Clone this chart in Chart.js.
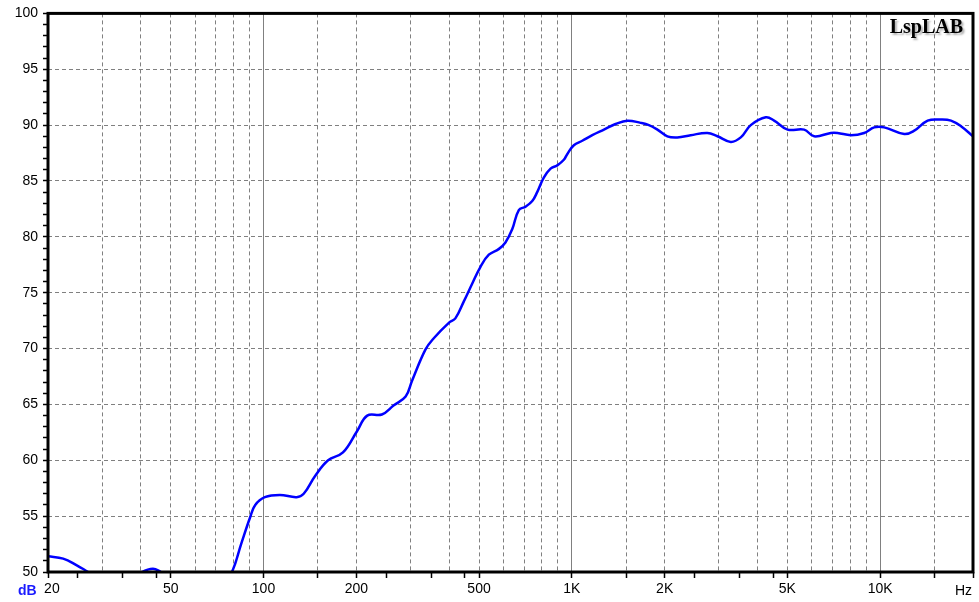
<!DOCTYPE html>
<html>
<head>
<meta charset="utf-8">
<script src="https://cdn.jsdelivr.net/npm/chart.js@4.4.1/dist/chart.umd.min.js"></script>
<style>
    html, body { margin: 0; padding: 0; background: #fff; }
    #wrap { width: 979px; height: 602px; }
</style>
</head>
<body>
<div id="wrap"><canvas id="fr" width="979" height="602"></canvas></div>
<script>
// frequency response
const freqHz = [
    20, 22.4, 24.8, 27, 30, 34, 38, 40.4, 43.8, 46.5, 52, 60, 70, 79, 84.6, 90.5, 94,
    101, 113, 128, 135, 147, 162, 181, 201, 217, 242, 264, 289, 303, 335, 356, 399,
    419, 446, 475, 505, 538, 579, 609, 641, 673, 708, 744, 772, 811, 853, 897, 942,
    966, 1015, 1081, 1165, 1271, 1386, 1513, 1672, 1778, 1894, 2041, 2198, 2429, 2752,
    2966, 3276, 3531, 3804, 4256, 4529, 5006, 5668, 6106, 6918, 7272, 8034, 8874, 9564,
    10304, 11968, 12898, 14256, 15746, 16970, 18284, 20000
];
const levelDb = [
    51.4, 51.2, 50.6, 50.0, 49.3, 48.8, 49.3, 50.0, 50.3, 50.0, 49.3, 47.8, 47.6, 50.0, 52.5, 54.9, 56.0,
    56.7, 56.9, 56.7, 57.0, 58.6, 60.0, 60.7, 62.6, 64.0, 64.1, 64.9, 65.7, 67.1, 69.9, 70.9, 72.3,
    72.7, 74.2, 75.8, 77.3, 78.4, 78.9, 79.5, 80.7, 82.4, 82.7, 83.2, 84.0, 85.3, 86.1, 86.4, 86.9,
    87.4, 88.2, 88.6, 89.1, 89.6, 90.1, 90.4, 90.2, 90.0, 89.6, 89.0, 88.9, 89.1, 89.3,
    89.0, 88.5, 88.9, 90.0, 90.7, 90.4, 89.6, 89.6, 89.0, 89.3, 89.3, 89.1, 89.3, 89.8,
    89.8, 89.2, 89.5, 90.4, 90.5, 90.4, 89.9, 89.0
];

// axis stuff
const xGridVals   = [30, 40, 50, 60, 70, 80, 90, 100, 150, 200, 300, 400, 500, 600, 700, 800, 900,
                     1000, 1500, 2000, 3000, 4000, 5000, 6000, 7000, 8000, 9000, 10000, 15000];
const xMarkVals   = [20, 25, 35, 45, 50, 100, 150, 200, 250, 350, 450, 500, 1000, 1500, 2000,
                     2500, 3500, 4500, 5000, 10000, 15000, 20000];
const xDecades    = [100, 1000, 10000];
const xLabelVals  = [20, 50, 100, 200, 500, 1000, 2000, 5000, 10000];
const xLabelText  = ['  20', '50', '100', '200', '500', '1K', '2K', '5K', '10K'];

const xTickVals = [...new Set([...xGridVals, ...xMarkVals])].sort((a, b) => a - b);

const GRID = '#808080';
const FONT = 'Liberation Sans';

const framePlugin = {
    id: 'frame',
    afterDraw(chart) {
        const { ctx, chartArea: a } = chart;
        ctx.save();
        ctx.strokeStyle = '#000';
        ctx.lineWidth = 3;
        ctx.strokeRect(a.left, a.top, a.right - a.left, a.bottom - a.top);

        ctx.textBaseline = 'middle';
        ctx.textAlign = 'left';
        ctx.font = 'bold 14px "' + FONT + '"';
        ctx.fillStyle = '#1a1aff';
        ctx.fillText('dB', 18, 591);
        ctx.font = '14px "' + FONT + '"';
        ctx.fillStyle = '#000';
        ctx.fillText('Hz', 955, 591);

        ctx.textBaseline = 'alphabetic';
        ctx.textAlign = 'right';
        ctx.font = 'bold 20px "Liberation Serif"';
        ctx.shadowColor = 'rgba(0,0,0,0.3)';
        ctx.shadowOffsetX = 2;
        ctx.shadowOffsetY = 2;
        ctx.shadowBlur = 2;
        ctx.fillText('LspLAB', 963, 33);
        ctx.restore();
    }
};

new Chart(document.getElementById('fr'), {
    type: 'line',
    data: {
        datasets: [{
            data: freqHz.map((f, i) => ({ x: f, y: levelDb[i] })),
            borderColor: '#0000ff',
            borderWidth: 2.5,
            pointRadius: 0,
            tension: 0.4,
            fill: false
        }]
    },
    options: {
        responsive: false,
        animation: false,
        layout: { padding: { top: 10, right: 6, left: 0, bottom: 0 } },
        plugins: {
            legend: { display: false },
            tooltip: { enabled: false }
        },
        scales: {
            x: {
                type: 'logarithmic',
                min: 20,
                max: 20000,
                afterBuildTicks: s => { s.ticks = xTickVals.map(v => ({ value: v })); },
                afterFit: s => { s.height = 30; },
                grid: {
                    color: c => xGridVals.includes(c.tick.value) ? GRID : 'rgba(0,0,0,0)',
                    tickColor: c => xMarkVals.includes(c.tick.value) ? '#000' : 'rgba(0,0,0,0)',
                    tickLength: 6,
                    lineWidth: 1,
                    tickWidth: 1.5
                },
                border: {
                    display: false,
                    dash: c => xDecades.includes(c.tick.value) ? [] : [4, 3]
                },
                ticks: {
                    autoSkip: false,
                    maxRotation: 0,
                    padding: 3,
                    color: '#000',
                    font: { family: FONT, size: 14 },
                    callback: v => {
                        const i = xLabelVals.indexOf(v);
                        return i < 0 ? '' : xLabelText[i];
                    }
                }
            },
            y: {
                min: 50,
                max: 100,
                afterFit: s => { s.width = 48; },
                grid: {
                    color: c => (c.tick.value % 5 === 0) ? GRID : 'rgba(0,0,0,0)',
                    tickColor: '#000',
                    tickLength: 5,
                    lineWidth: 1,
                    tickWidth: 1.5
                },
                border: { display: false, dash: [4, 3] },
                ticks: {
                    stepSize: 1,
                    autoSkip: false,
                    padding: 5,
                    color: '#000',
                    font: { family: FONT, size: 14 },
                    callback: v => (v % 5 === 0) ? String(v) : ''
                }
            }
        }
    },
    plugins: [framePlugin]
});
</script>
</body>
</html>
